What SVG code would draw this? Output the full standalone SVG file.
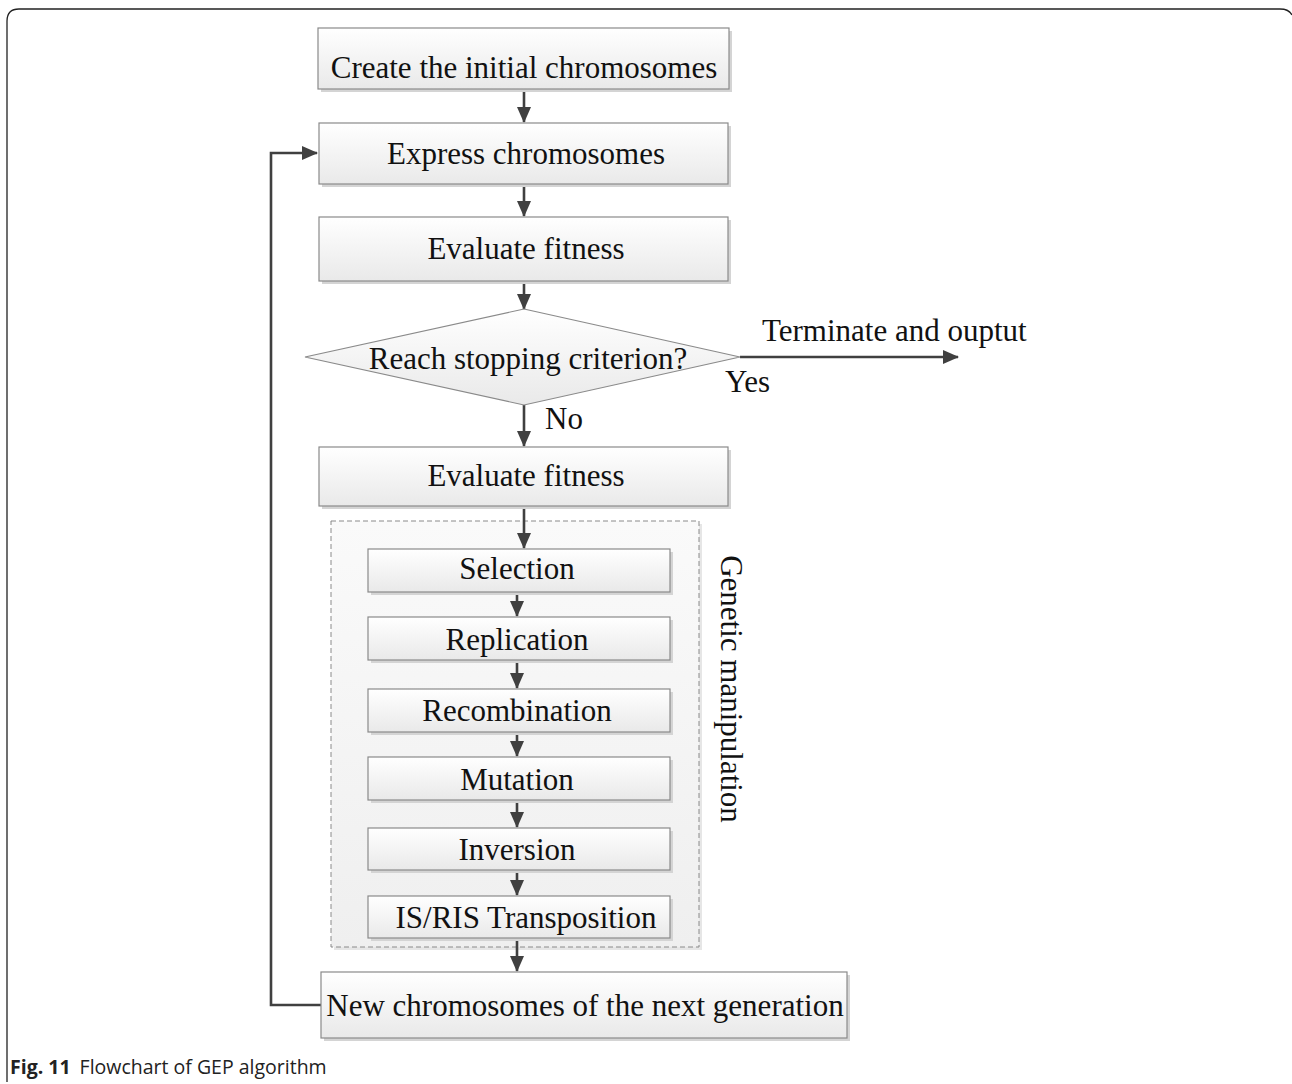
<svg xmlns="http://www.w3.org/2000/svg" width="1292" height="1084" viewBox="0 0 1292 1084">
  <defs>
    <linearGradient id="boxFill" x1="0" y1="0" x2="0" y2="1">
      <stop offset="0" stop-color="#ffffff"/>
      <stop offset="1" stop-color="#e9e9e9"/>
    </linearGradient>
    <linearGradient id="groupFill" x1="0" y1="0" x2="0" y2="1">
      <stop offset="0" stop-color="#fafafa"/>
      <stop offset="1" stop-color="#efefef"/>
    </linearGradient>
    <marker id="arrow" markerWidth="16" markerHeight="14" refX="15" refY="7" orient="auto" markerUnits="userSpaceOnUse" viewBox="0 0 16 14">
      <path d="M0,0 L16,7 L0,14 Z" fill="#404040"/>
    </marker>
  </defs>
  <style>
    .box { fill: url(#boxFill); stroke: #8a8a8a; stroke-width: 1.2; }
    .shadow { fill: #d4d4d4; }
    .lbl { font-family: "Liberation Serif", "Times New Roman", serif; font-size: 31px; fill: #111; text-anchor: middle; }
    .free { font-family: "Liberation Serif", "Times New Roman", serif; font-size: 31px; fill: #111; }
    .conn { fill: none; stroke: #404040; stroke-width: 2.6; }
    .conn-arrow { fill: none; stroke: #404040; stroke-width: 2.6; marker-end: url(#arrow); }
  </style>

  <rect width="1292" height="1084" fill="#ffffff"/>

  <!-- page frame -->
  <path d="M7,1082 L7,21 Q7,9 19,9 L1280,9 Q1289,9 1292,15" fill="none" stroke="#222" stroke-width="1.3"/>

  <!-- genetic manipulation group -->
  <g id="group-genetic">
    <rect x="334" y="524" width="368" height="426" fill="#e6e6e6"/>
    <rect x="331" y="521" width="368" height="426" fill="url(#groupFill)" stroke="#8a8a8a" stroke-width="1" stroke-dasharray="5,3"/>
    <text class="free" transform="translate(721,689) rotate(90)" text-anchor="middle">Genetic manipulation</text>
  </g>

  <g id="connectors">
    <line class="conn-arrow" x1="524" y1="89" x2="524" y2="122"/>
    <line class="conn-arrow" x1="524" y1="185" x2="524" y2="216"/>
    <line class="conn-arrow" x1="524" y1="282" x2="524" y2="309"/>
    <line class="conn-arrow" x1="740" y1="357" x2="958" y2="357"/>
    <line class="conn-arrow" x1="524" y1="405" x2="524" y2="446"/>
    <line class="conn-arrow" x1="524" y1="507" x2="524" y2="548"/>
    <line class="conn-arrow" x1="517" y1="592" x2="517" y2="616"/>
    <line class="conn-arrow" x1="517" y1="661" x2="517" y2="688"/>
    <line class="conn-arrow" x1="517" y1="733" x2="517" y2="756"/>
    <line class="conn-arrow" x1="517" y1="801" x2="517" y2="827"/>
    <line class="conn-arrow" x1="517" y1="871" x2="517" y2="895"/>
    <line class="conn-arrow" x1="517" y1="938" x2="517" y2="971"/>
    <path class="conn-arrow" d="M321,1005 L271,1005 L271,153 L317,153"/>
  </g>

  <g id="n-create">
    <rect class="shadow" x="321" y="31" width="411" height="61"/>
    <rect class="box" x="318" y="28" width="411" height="61"/>
    <text class="lbl" x="524" y="78">Create the initial chromosomes</text>
  </g>

  <g id="n-express">
    <rect class="shadow" x="322" y="126" width="409" height="61"/>
    <rect class="box" x="319" y="123" width="409" height="61"/>
    <text class="lbl" x="526" y="164">Express chromosomes</text>
  </g>

  <g id="n-fitness1">
    <rect class="shadow" x="322" y="220" width="409" height="64"/>
    <rect class="box" x="319" y="217" width="409" height="64"/>
    <text class="lbl" x="526" y="259">Evaluate fitness</text>
  </g>

  <g id="n-decision">
    <path d="M524,309 L740,357 L524,405 L305,357 Z" fill="url(#boxFill)" stroke="#8a8a8a" stroke-width="1.2"/>
    <text class="lbl" x="528" y="369">Reach stopping criterion?</text>
    <text class="free" x="762" y="341">Terminate and ouptut</text>
    <text class="free" x="725" y="392">Yes</text>
    <text class="free" x="545" y="429">No</text>
  </g>

  <g id="n-fitness2">
    <rect class="shadow" x="322" y="450" width="409" height="59"/>
    <rect class="box" x="319" y="447" width="409" height="59"/>
    <text class="lbl" x="526" y="486">Evaluate fitness</text>
  </g>

  <g id="n-selection">
    <rect class="shadow" x="371" y="552" width="302" height="43"/>
    <rect class="box" x="368" y="549" width="302" height="43"/>
    <text class="lbl" x="517" y="579">Selection</text>
  </g>

  <g id="n-replication">
    <rect class="shadow" x="371" y="620" width="302" height="43"/>
    <rect class="box" x="368" y="617" width="302" height="43"/>
    <text class="lbl" x="517" y="650">Replication</text>
  </g>

  <g id="n-recombination">
    <rect class="shadow" x="371" y="692" width="302" height="43"/>
    <rect class="box" x="368" y="689" width="302" height="43"/>
    <text class="lbl" x="517" y="721">Recombination</text>
  </g>

  <g id="n-mutation">
    <rect class="shadow" x="371" y="760" width="302" height="43"/>
    <rect class="box" x="368" y="757" width="302" height="43"/>
    <text class="lbl" x="517" y="790">Mutation</text>
  </g>

  <g id="n-inversion">
    <rect class="shadow" x="371" y="831" width="302" height="42"/>
    <rect class="box" x="368" y="828" width="302" height="42"/>
    <text class="lbl" x="517" y="860">Inversion</text>
  </g>

  <g id="n-transposition">
    <rect class="shadow" x="371" y="899" width="302" height="42"/>
    <rect class="box" x="368" y="896" width="302" height="42"/>
    <text class="lbl" x="526" y="928">IS/RIS Transposition</text>
  </g>

  <g id="n-newgen">
    <rect class="shadow" x="324" y="975" width="526" height="66"/>
    <rect class="box" x="321" y="972" width="526" height="66"/>
    <text class="lbl" x="585" y="1016">New chromosomes of the next generation</text>
  </g>

  <text x="10" y="1074" font-family="'Open Sans', 'Noto Sans', sans-serif" font-size="19.5" fill="#222"><tspan font-weight="bold">Fig. 11</tspan><tspan dx="9">Flowchart of GEP algorithm</tspan></text>
</svg>
